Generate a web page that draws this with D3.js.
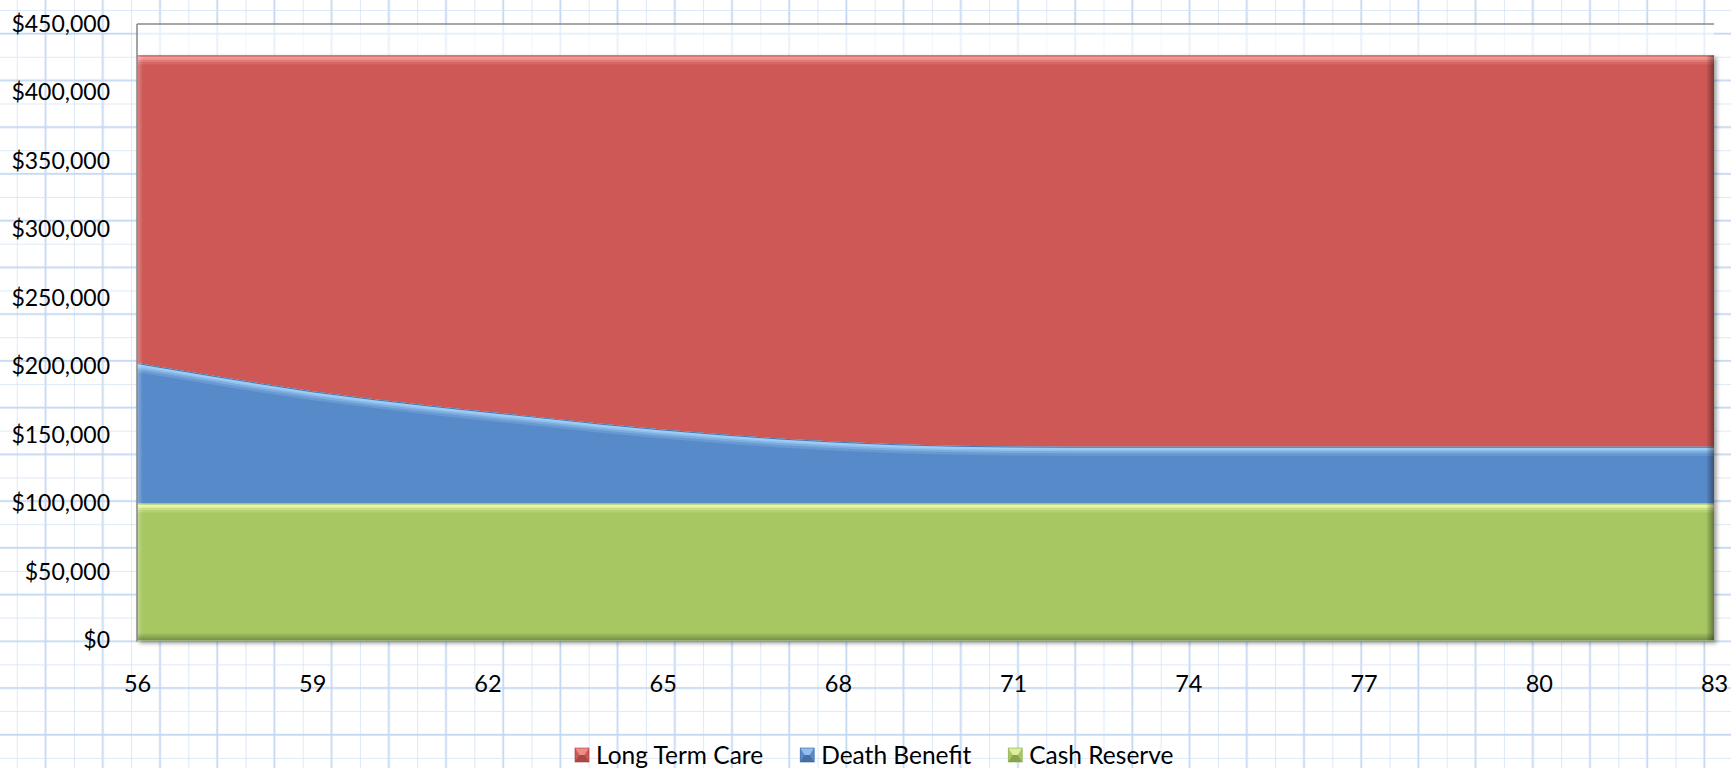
<!DOCTYPE html>
<html><head><meta charset="utf-8">
<script src="https://cdn.jsdelivr.net/npm/d3@7"></script>
<style>html,body{margin:0;padding:0;background:#fff;overflow:hidden}</style>
</head><body><svg id="c" width="1731" height="768"></svg>
<script>
// ---------------- data ----------------
const ages = [56,57,58,59,60,61,62,63,64,65,66,67,68,69,70,71,72,73,74,75,76,77,78,79,80,81,82,83];
const cashReserve = [100000,100000,100000,100000,100000,100000,100000,100000,100000,100000,100000,100000,100000,100000,
                     100000,100000,100000,100000,100000,100000,100000,100000,100000,100000,100000,100000,100000,100000];
const deathBenefit = [102500,95500,88500,82000,76500,71500,67000,62500,58000,54000,50500,47500,45000,43300,
                      42200,41600,41500,41500,41500,41500,41500,41500,41500,41500,41500,41500,41500,41500];
const longTermCare = [224500,231500,238500,245000,250500,255500,260000,264500,269000,273000,276500,279500,282000,283700,
                      284800,285400,285500,285500,285500,285500,285500,285500,285500,285500,285500,285500,285500,285500];
const seriesNames = ["Long Term Care","Death Benefit","Cash Reserve"];
const yTicks = [0,50000,100000,150000,200000,250000,300000,350000,400000,450000];
const xTicks = [56,59,62,65,68,71,74,77,80,83];

// ---------------- styles ----------------
const style = {
  ltc:   {fill:"#cd5855", hi:"#f9a4a1", edge:"#a93c3a"},
  death: {fill:"#578ac9", hi:"#a8d6fc", edge:"#33609b"},
  cash:  {fill:"#a6c762", hi:"#f6ffb8", edge:"#87a848"}
};
const W = 1731, H = 768;
const P = {left:137, right:1714, top:24, bottom:640.5};
const FONT = "Lato, 'Open Sans', sans-serif";

const svg = d3.select("#c");
const defs = svg.append("defs");

// graph paper background
const gp = defs.append("pattern").attr("id","grid").attr("patternUnits","userSpaceOnUse")
  .attr("x",16.7).attr("y",10).attr("width",57.2).attr("height",46.74);
gp.append("rect").attr("width",57.2).attr("height",46.74).attr("fill","#ffffff");
gp.append("rect").attr("x",-0.6).attr("y",0).attr("width",1.4).attr("height",46.74).attr("fill","#d6e4f6");
gp.append("rect").attr("x",28.0).attr("y",0).attr("width",1.8).attr("height",46.74).attr("fill","#c3d8f2");
gp.append("rect").attr("x",0).attr("y",-0.6).attr("width",57.2).attr("height",1.4).attr("fill","#d6e4f6");
gp.append("rect").attr("x",0).attr("y",22.77).attr("width",57.2).attr("height",1.8).attr("fill","#c3d8f2");

svg.append("rect").attr("width",W).attr("height",H).attr("fill","url(#grid)");

// scales
const x = d3.scaleLinear().domain([ages[0], ages[ages.length-1]]).range([P.left, P.right]);
const y = d3.scaleLinear().domain([0, 450000]).range([P.bottom, P.top]);

// plot area (semi-transparent white)
svg.append("rect").attr("x",P.left).attr("y",P.top).attr("width",P.right-P.left).attr("height",P.bottom-P.top)
  .attr("fill","#ffffff").attr("opacity",0.6);

// gridlines (behind series)
svg.append("g").selectAll("line").data(yTicks.filter(t=>t>0)).join("line")
  .attr("x1",P.left).attr("x2",P.right).attr("y1",d=>y(d)).attr("y2",d=>y(d))
  .attr("stroke","#8a8a8a").attr("stroke-width",1.5);

// stacked data
const rows = ages.map((a,i)=>({age:a, cash:cashReserve[i], death:deathBenefit[i], ltc:longTermCare[i]}));
const keys = ["cash","death","ltc"];
const stacked = d3.stack().keys(keys)(rows);

const area = d3.area().x(d=>x(d.data.age)).y0(d=>y(d[0])).y1(d=>y(d[1]));
const topLine = d3.line().x(d=>x(d.data.age)).y(d=>y(d[1]));
const outer = d3.area().x(d=>x(d.data.age)).y0(()=>y(0)).y1(d=>y(d[1]));

// filters & gradients
const f = defs.append("filter").attr("id","shadow").attr("x","-5%").attr("y","-5%").attr("width","110%").attr("height","115%");
f.append("feDropShadow").attr("dx",2.5).attr("dy",2.5).attr("stdDeviation",2).attr("flood-color","#000").attr("flood-opacity",0.4);

const gR = defs.append("linearGradient").attr("id","rshade").attr("x1",0).attr("x2",1).attr("y1",0).attr("y2",0);
gR.append("stop").attr("offset",0).attr("stop-color","#000").attr("stop-opacity",0);
gR.append("stop").attr("offset",1).attr("stop-color","#000").attr("stop-opacity",0.4);
const gL = defs.append("linearGradient").attr("id","lshade").attr("x1",0).attr("x2",1).attr("y1",0).attr("y2",0);
gL.append("stop").attr("offset",0).attr("stop-color","#fff").attr("stop-opacity",0.3);
gL.append("stop").attr("offset",1).attr("stop-color","#fff").attr("stop-opacity",0);
const gB = defs.append("linearGradient").attr("id","bshade").attr("x1",0).attr("x2",0).attr("y1",0).attr("y2",1);
gB.append("stop").attr("offset",0).attr("stop-color","#000").attr("stop-opacity",0);
gB.append("stop").attr("offset",1).attr("stop-color","#000").attr("stop-opacity",0.3);

stacked.forEach(s=>{
  defs.append("clipPath").attr("id","clip-"+s.key).append("path").attr("d", area(s));
});
defs.append("clipPath").attr("id","clip-all").append("path").attr("d", outer(stacked[stacked.length-1]));

// series group
const sg = svg.append("g").attr("filter","url(#shadow)");
const inner = sg.append("g");
stacked.forEach(s=>{
  inner.append("path").attr("d", area(s)).attr("fill", style[s.key].fill);
});
// top highlights
stacked.forEach(s=>{
  const st = style[s.key];
  const g = inner.append("g").attr("clip-path","url(#clip-"+s.key+")");
  [[18,0.2],[13,0.3],[9,0.45],[6,0.6]].forEach(([w,o])=>{
    g.append("path").attr("d", topLine(s)).attr("fill","none").attr("stroke",st.hi)
      .attr("stroke-width",w).attr("stroke-opacity",o);
  });
  g.append("path").attr("d", topLine(s)).attr("fill","none").attr("stroke",st.edge)
    .attr("stroke-width",2).attr("stroke-opacity",0.8);
});
// edge bevel shading
const eg = inner.append("g").attr("clip-path","url(#clip-all)");
eg.append("rect").attr("x",P.right-8).attr("y",P.top).attr("width",8).attr("height",P.bottom-P.top).attr("fill","url(#rshade)");
eg.append("rect").attr("x",P.left).attr("y",P.top).attr("width",6).attr("height",P.bottom-P.top).attr("fill","url(#lshade)");
eg.append("rect").attr("x",P.left).attr("y",P.bottom-8).attr("width",P.right-P.left).attr("height",8).attr("fill","url(#bshade)");

// axes lines
svg.append("line").attr("x1",P.left).attr("x2",P.left).attr("y1",P.top).attr("y2",P.bottom+1)
  .attr("stroke","#868686").attr("stroke-width",1.5);
svg.append("line").attr("x1",P.left).attr("x2",P.right).attr("y1",P.bottom+1).attr("y2",P.bottom+1)
  .attr("stroke","#5f5f5f").attr("stroke-width",2.5).attr("filter","url(#shadow)");

// y axis labels
const yAxis = d3.axisLeft(y).tickValues(yTicks).tickFormat(d3.format("$,.0f")).tickSize(0).tickPadding(27);
const ya = svg.append("g").attr("transform",`translate(${P.left},0)`).call(yAxis);
ya.select(".domain").remove();
ya.selectAll("text").attr("font-family",FONT).attr("font-size",23).attr("fill","#000");

// x axis labels
const xAxis = d3.axisBottom(x).tickValues(xTicks).tickFormat(d3.format("d")).tickSize(0).tickPadding(35);
const xa = svg.append("g").attr("transform",`translate(0,${P.bottom})`).call(xAxis);
xa.select(".domain").remove();
xa.selectAll("text").attr("font-family",FONT).attr("font-size",23.5).attr("fill","#000");

// legend
const legendKeys = ["ltc","death","cash"];
const lg = svg.append("g");
let lx = 575;
const ly = 755;
const ms = 14;
legendKeys.forEach((k,i)=>{
  const st = style[k];
  const m = lg.append("g").attr("transform",`translate(${lx},${ly-ms/2})`);
  m.append("rect").attr("width",ms).attr("height",ms).attr("fill",st.fill);
  m.append("path").attr("d",`M0,0H${ms}L${ms*0.68},${ms/2}H${ms*0.32}Z`).attr("fill",st.hi).attr("opacity",0.7);
  m.append("path").attr("d",`M0,${ms}H${ms}L${ms*0.68},${ms/2}H${ms*0.32}Z`).attr("fill","#000").attr("opacity",0.18);
  m.append("rect").attr("width",ms).attr("height",ms).attr("fill","none").attr("stroke",st.edge).attr("stroke-width",0.6);
  const t = lg.append("text").attr("x",lx+21).attr("y",ly).attr("dy","0.35em")
    .attr("font-family",FONT).attr("font-size",24.5).attr("fill","#000").text(seriesNames[i]);
  lx += 21 + t.node().getComputedTextLength() + 37;
});
</script></body></html>
